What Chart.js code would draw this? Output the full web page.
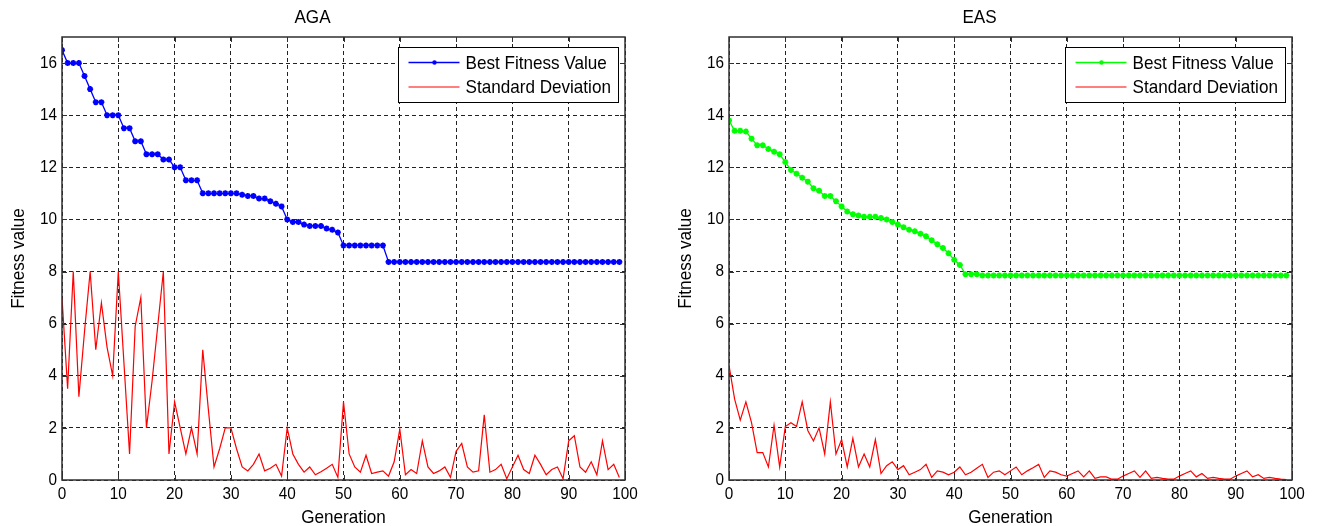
<!DOCTYPE html>
<html>
<head>
<meta charset="utf-8">
<title>AGA vs EAS fitness</title>
<script src="https://cdn.jsdelivr.net/npm/chart.js@4/dist/chart.umd.min.js"></script>
<style>
  html, body { margin: 0; padding: 0; background: #fff; overflow: hidden; }
  .panel { position: absolute; top: 0; width: 651px; height: 526px; }
  #panel-aga { left: 0; }
  #panel-eas { left: 667px; }
</style>
</head>
<body>
<div class="panel" id="panel-aga"><canvas id="chart-aga"></canvas></div>
<div class="panel" id="panel-eas"><canvas id="chart-eas"></canvas></div>
<script>
// Generation index shared by both runs (0..99).
const generations = Array.from({ length: 100 }, (_, i) => i);

const xTicks = [0, 10, 20, 30, 40, 50, 60, 70, 80, 90, 100];
const yTicks = [0, 2, 4, 6, 8, 10, 12, 14, 16];

// AGA run
const agaBest = [
  16.5, 16, 16, 16, 15.5, 15, 14.5, 14.5, 14, 14,
  14, 13.5, 13.5, 13, 13, 12.5, 12.5, 12.5, 12.3, 12.3,
  12, 12, 11.5, 11.5, 11.5, 11, 11, 11, 11, 11,
  11, 11, 10.95, 10.9, 10.9, 10.8, 10.8, 10.7, 10.6, 10.5,
  10, 9.9, 9.9, 9.8, 9.75, 9.75, 9.75, 9.65, 9.6, 9.5,
  9, 9, 9, 9, 9, 9, 9, 9, 8.37, 8.37,
  8.37, 8.37, 8.37, 8.37, 8.37, 8.37, 8.37, 8.37, 8.37, 8.37,
  8.37, 8.37, 8.37, 8.37, 8.37, 8.37, 8.37, 8.37, 8.37, 8.37,
  8.37, 8.37, 8.37, 8.37, 8.37, 8.37, 8.37, 8.37, 8.37, 8.37,
  8.37, 8.37, 8.37, 8.37, 8.37, 8.37, 8.37, 8.37, 8.37, 8.37
];
const agaStd = [
  7.0, 3.5, 8.0, 3.2, 5.7, 8.0, 5.0, 6.8, 5.1, 4.0,
  8.0, 4.5, 1.0, 5.9, 7.0, 2.0, 3.8, 5.9, 8.0, 1.0,
  3.0, 2.0, 1.0, 2.0, 1.0, 5.0, 2.7, 0.5, 1.2, 2.0,
  2.0, 1.2, 0.5, 0.35, 0.6, 1.0, 0.35, 0.45, 0.6, 0.15,
  2.0, 1.0, 0.6, 0.3, 0.5, 0.2, 0.32, 0.45, 0.6, 0.1,
  3.0, 1.0, 0.5, 0.3, 0.95, 0.25, 0.3, 0.35, 0.15, 0.7,
  1.95, 0.2, 0.4, 0.25, 1.5, 0.5, 0.25, 0.35, 0.5, 0.1,
  1.1, 1.4, 0.5, 0.3, 0.35, 2.5, 0.3, 0.4, 0.6, 0.05,
  0.5, 0.95, 0.4, 0.25, 0.95, 0.6, 0.2, 0.4, 0.5, 0.05,
  1.5, 1.7, 0.5, 0.3, 0.7, 0.2, 1.5, 0.4, 0.6, 0.1
];

// EAS run
const easBest = [
  13.8, 13.4, 13.4, 13.37, 13.1, 12.85, 12.85, 12.7, 12.6, 12.5,
  12.2, 11.9, 11.75, 11.6, 11.45, 11.2, 11.1, 10.9, 10.9, 10.7,
  10.5, 10.3, 10.2, 10.15, 10.1, 10.1, 10.1, 10.05, 10.0, 9.9,
  9.8, 9.7, 9.6, 9.55, 9.45, 9.35, 9.2, 9.05, 8.9, 8.7,
  8.45, 8.25, 7.9, 7.9, 7.9, 7.85, 7.85, 7.85, 7.85, 7.85,
  7.85, 7.85, 7.85, 7.85, 7.85, 7.85, 7.85, 7.85, 7.85, 7.85,
  7.85, 7.85, 7.85, 7.85, 7.85, 7.85, 7.85, 7.85, 7.85, 7.85,
  7.85, 7.85, 7.85, 7.85, 7.85, 7.85, 7.85, 7.85, 7.85, 7.85,
  7.85, 7.85, 7.85, 7.85, 7.85, 7.85, 7.85, 7.85, 7.85, 7.85,
  7.85, 7.85, 7.85, 7.85, 7.85, 7.85, 7.85, 7.85, 7.85, 7.85
];
const easStd = [
  4.4, 3.1, 2.3, 3.0, 2.2, 1.05, 1.05, 0.5, 2.1, 0.5,
  2.05, 2.2, 2.05, 3.0, 1.9, 1.5, 2.0, 1.0, 3.0, 1.0,
  1.55, 0.5, 1.6, 0.5, 1.0, 0.5, 1.55, 0.25, 0.55, 0.7,
  0.4, 0.55, 0.2, 0.3, 0.4, 0.6, 0.1, 0.35, 0.3, 0.2,
  0.3, 0.5, 0.2, 0.3, 0.45, 0.6, 0.1, 0.3, 0.35, 0.2,
  0.35, 0.5, 0.2, 0.35, 0.47, 0.6, 0.1, 0.35, 0.3, 0.2,
  0.15, 0.25, 0.35, 0.12, 0.35, 0.06, 0.12, 0.12, 0.03, 0.03,
  0.15, 0.25, 0.35, 0.1, 0.35, 0.06, 0.1, 0.06, 0.03, 0.03,
  0.15, 0.25, 0.35, 0.12, 0.25, 0.06, 0.1, 0.06, 0.03, 0.03,
  0.15, 0.25, 0.35, 0.12, 0.2, 0.06, 0.1, 0.06, 0.03, 0.02
];

const FONT = "'Liberation Sans', Arial, sans-serif";
Chart.defaults.font.family = FONT;
Chart.defaults.color = '#000';

// Draw every label slightly condensed (narrow Helvetica look).
const condensedText = {
  id: 'condensedText',
  beforeInit(chart) {
    const ctx = chart.ctx;
    const fill = ctx.fillText.bind(ctx);
    ctx.fillText = (text, x, y) => {
      ctx.save();
      ctx.translate(x, y);
      ctx.scale(0.9, 1);
      fill(text, 0, 0);
      ctx.restore();
    };
  }
};

// Solid box round the plot area with short inward tick marks on all four sides.
const frameBox = {
  id: 'frameBox',
  afterDatasetsDraw(chart) {
    const { ctx, chartArea: a, scales } = chart;
    const len = 5;
    ctx.save();
    ctx.strokeStyle = '#303030';
    ctx.lineWidth = 1;
    ctx.beginPath();
    scales.x.ticks.forEach(t => {
      const px = Math.round(scales.x.getPixelForValue(t.value)) + 0.5;
      ctx.moveTo(px, a.top); ctx.lineTo(px, a.top + len);
      ctx.moveTo(px, a.bottom); ctx.lineTo(px, a.bottom - len);
    });
    scales.y.ticks.forEach(t => {
      const py = Math.round(scales.y.getPixelForValue(t.value)) + 0.5;
      ctx.moveTo(a.left, py); ctx.lineTo(a.left + len, py);
      ctx.moveTo(a.right, py); ctx.lineTo(a.right - len, py);
    });
    ctx.stroke();
    ctx.lineWidth = 1.5;
    ctx.strokeRect(a.left, a.top, a.right - a.left, a.bottom - a.top);
    ctx.restore();
  }
};

// Boxed legend in the upper-right corner of the plot area.
const legendBox = {
  id: 'legendBox',
  afterDraw(chart) {
    const { ctx, chartArea: a } = chart;
    const w = 220, h = 55;
    const x = Math.round(a.right - 7 - w) + 0.5;
    const y = Math.round(a.top + 10) + 0.5;
    ctx.save();
    ctx.fillStyle = '#fff';
    ctx.fillRect(x, y, w, h);
    ctx.strokeStyle = '#000';
    ctx.lineWidth = 1;
    ctx.strokeRect(x, y, w, h);
    ctx.font = `19px ${FONT}`;
    ctx.textBaseline = 'middle';
    ctx.textAlign = 'left';
    chart.data.datasets.forEach((ds, i) => {
      const rowY = y + 15 + i * 24.5;
      ctx.strokeStyle = ds.borderColor;
      ctx.lineWidth = ds.borderWidth;
      ctx.beginPath();
      ctx.moveTo(x + 10, rowY);
      ctx.lineTo(x + 61, rowY);
      ctx.stroke();
      if (ds.pointRadius > 0) {
        ctx.fillStyle = ds.borderColor;
        ctx.beginPath();
        ctx.arc(x + 36, rowY, 2.2, 0, Math.PI * 2);
        ctx.fill();
      }
      ctx.fillStyle = '#000';
      ctx.fillText(ds.label, x + 67, rowY + 1);
    });
    ctx.restore();
  }
};

function toPoints(values) {
  return values.map((y, i) => ({ x: generations[i], y }));
}

function buildChart(canvasId, title, best, std, bestColor) {
  const grid = { color: '#222', lineWidth: 1, drawTicks: false };
  return new Chart(document.getElementById(canvasId), {
    type: 'line',
    data: {
      datasets: [
        {
          label: 'Best Fitness Value',
          data: toPoints(best),
          borderColor: bestColor,
          backgroundColor: bestColor,
          borderWidth: 1.3,
          pointStyle: 'star',
          pointRadius: 3,
          pointHoverRadius: 3,
          pointBorderWidth: 1.8,
          tension: 0,
        },
        {
          label: 'Standard Deviation',
          data: toPoints(std),
          borderColor: '#ff0000',
          backgroundColor: '#ff0000',
          borderWidth: 1.2,
          pointRadius: 0,
          tension: 0,
        },
      ]
    },
    options: {
      responsive: true,
      maintainAspectRatio: false,
      animation: false,
      devicePixelRatio: 1,
      layout: { padding: { left: 0, right: 26, top: 0, bottom: 0 } },
      scales: {
        x: {
          type: 'linear',
          min: xTicks[0],
          max: xTicks[xTicks.length - 1],
          afterBuildTicks: s => { s.ticks = xTicks.map(v => ({ value: v })); },
          afterFit: s => { s.height = 46; },
          ticks: { font: { size: 17 }, padding: 4, maxRotation: 0 },
          grid,
          border: { display: false, dash: [4, 3] },
          title: { display: true, text: 'Generation', font: { size: 19, lineHeight: 0.9 }, padding: { top: 0, bottom: 0 } },
        },
        y: {
          min: 0,
          max: 17,
          afterBuildTicks: s => { s.ticks = yTicks.map(v => ({ value: v })); },
          afterFit: s => { s.width = 62; },
          ticks: { font: { size: 17 }, padding: 5 },
          grid,
          border: { display: false, dash: [4, 3] },
          title: { display: true, text: 'Fitness value', font: { size: 19, lineHeight: 1 }, padding: { top: 9, bottom: 0 } },
        }
      },
      plugins: {
        legend: { display: false },
        tooltip: { enabled: false },
        title: {
          display: true,
          text: title,
          font: { size: 19, weight: 'normal', lineHeight: 1 },
          padding: { top: 8.5, bottom: 9.5 },
        }
      }
    },
    plugins: [condensedText, frameBox, legendBox]
  });
}

buildChart('chart-aga', 'AGA', agaBest, agaStd, '#0000ff');
buildChart('chart-eas', 'EAS', easBest, easStd, '#00ff00');
</script>
</body>
</html>
